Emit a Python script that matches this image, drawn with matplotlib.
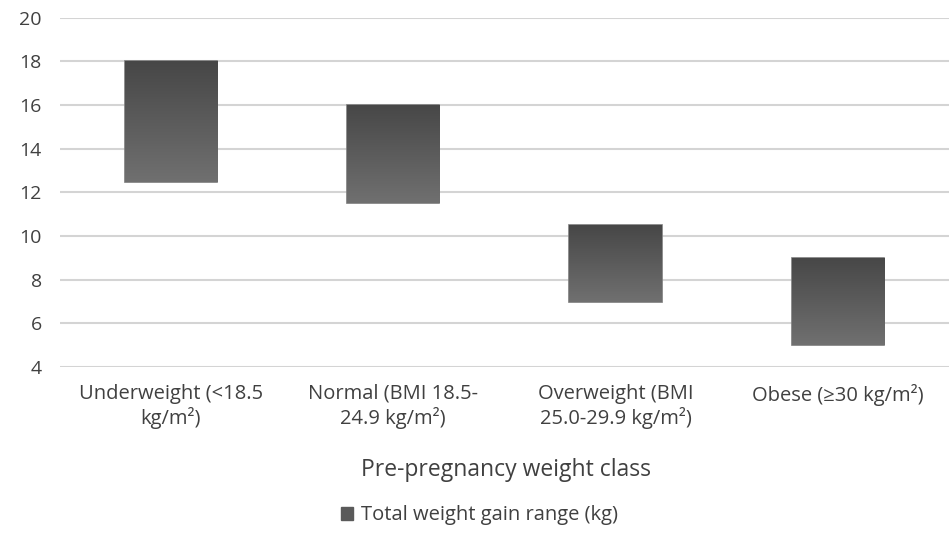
import numpy as np
import matplotlib
matplotlib.use("Agg")
import matplotlib.pyplot as plt
from matplotlib.colors import LinearSegmentedColormap

categories = ["Underweight (<18.5\nkg/m²)", "Normal (BMI 18.5-\n24.9 kg/m²)",
              "Overweight (BMI\n25.0-29.9 kg/m²)", "Obese (≥30 kg/m²)"]
gain_low = [12.5, 11.5, 7.0, 5.0]
gain_high = [18.0, 16.0, 10.5, 9.0]
yticks = [4, 6, 8, 10, 12, 14, 16, 18, 20]

plt.rcParams["font.family"] = ["Open Sans", "DejaVu Sans"]

fig = plt.figure(figsize=(9.49, 5.57), dpi=100)
ax = fig.add_axes([0.063, 0.341, 0.937, 0.627])

x = np.arange(len(categories))
heights = [h - l for l, h in zip(gain_low, gain_high)]
bars = ax.bar(x, heights, bottom=gain_low, width=0.415, color="#5a5a5a",
              edgecolor="#7a7a7a", linewidth=1.2, zorder=2,
              label="Total weight gain range (kg)")

# vertical gradient inside each bar, dark at top
cmap = LinearSegmentedColormap.from_list("g", ["#707070", "#474747"])
grad = np.linspace(0, 1, 256).reshape(-1, 1)
for b in bars:
    x0, y0 = b.get_x(), b.get_y()
    im = ax.imshow(grad, cmap=cmap, origin="lower", aspect="auto",
                   extent=[x0, x0 + b.get_width(), y0, y0 + b.get_height()],
                   zorder=2.5)
    im.set_clip_path(b)

ax.set_xlim(-0.5, len(categories) - 0.5)
ax.set_ylim(4, 20)
ax.set_yticks(yticks)
ax.set_xticks(x)
ax.set_xticklabels(categories, fontsize=14.5, color="#404040", linespacing=1.2)
ax.tick_params(axis="y", labelsize=14, labelcolor="#404040", length=0, pad=13)
ax.tick_params(axis="x", length=0, pad=12)
ax.grid(axis="y", color="#d4d4d4", linewidth=1.5, zorder=0)
for s in ax.spines.values():
    s.set_visible(False)

fig.text(0.533, 0.156, "Pre-pregnancy weight class", ha="center", va="center",
         fontsize=16.5, color="#404040")
leg = fig.legend(handles=[plt.Rectangle((0, 0), 1, 1, color="#5a5a5a")],
                 labels=["Total weight gain range (kg)"], loc="center",
                 bbox_to_anchor=(0.505, 0.075), frameon=False, fontsize=14.5,
                 handlelength=0.6, handleheight=0.6, handletextpad=0.4)
for t in leg.get_texts():
    t.set_color("#404040")

fig.savefig("out.png", dpi=100, facecolor="white")
